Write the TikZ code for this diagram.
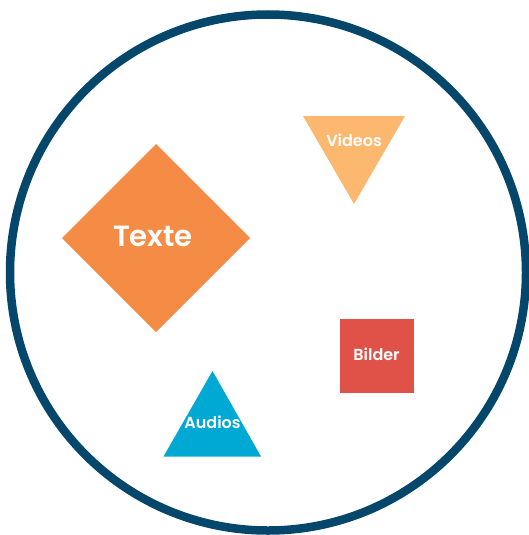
\documentclass[tikz,border=0pt]{standalone}
\usepackage{fontspec}
\setmainfont{Poppins}
\newfontfamily\popsemi{Poppins SemiBold}
\definecolor{ringblue}{HTML}{04476B}
\definecolor{vidorange}{HTML}{FDB870}
\definecolor{txtorange}{HTML}{F48C45}
\definecolor{imgred}{HTML}{E05247}
\definecolor{audcyan}{HTML}{00A9D4}
\tikzset{
  lbl/.style={text=white, font=\popsemi\fontsize{16}{19}\selectfont, inner sep=0pt},
  biglbl/.style={text=white, font=\popsemi\fontsize{29.2}{33}\selectfont, inner sep=0pt}
}
\begin{document}
\begin{tikzpicture}[x=1pt,y=-1pt]
\useasboundingbox (0,0) rectangle (529,535);
\draw[ringblue, line width=8.5pt] (268,272.5) circle (258);
% Texte diamond
\fill[txtorange] (62,238) -- (156,144) -- (250,238) -- (156,332) -- cycle;
\node[biglbl] (texte) at (153,236) {Texte};
% Videos triangle
\fill[vidorange] (303,116) -- (405,116) -- (354,204) -- cycle;
\node[lbl] (videos) at (354,140.5) {Videos};
% Bilder square
\fill[imgred] (340,318.5) rectangle (414,392.5);
\node[lbl] (bilder) at (376.5,354) {Bilder};
% Audios triangle
\fill[audcyan] (212.5,371) -- (261,456.5) -- (163.5,456.5) -- cycle;
\node[lbl] (audios) at (212.5,422) {Audios};
\end{tikzpicture}
\end{document}
